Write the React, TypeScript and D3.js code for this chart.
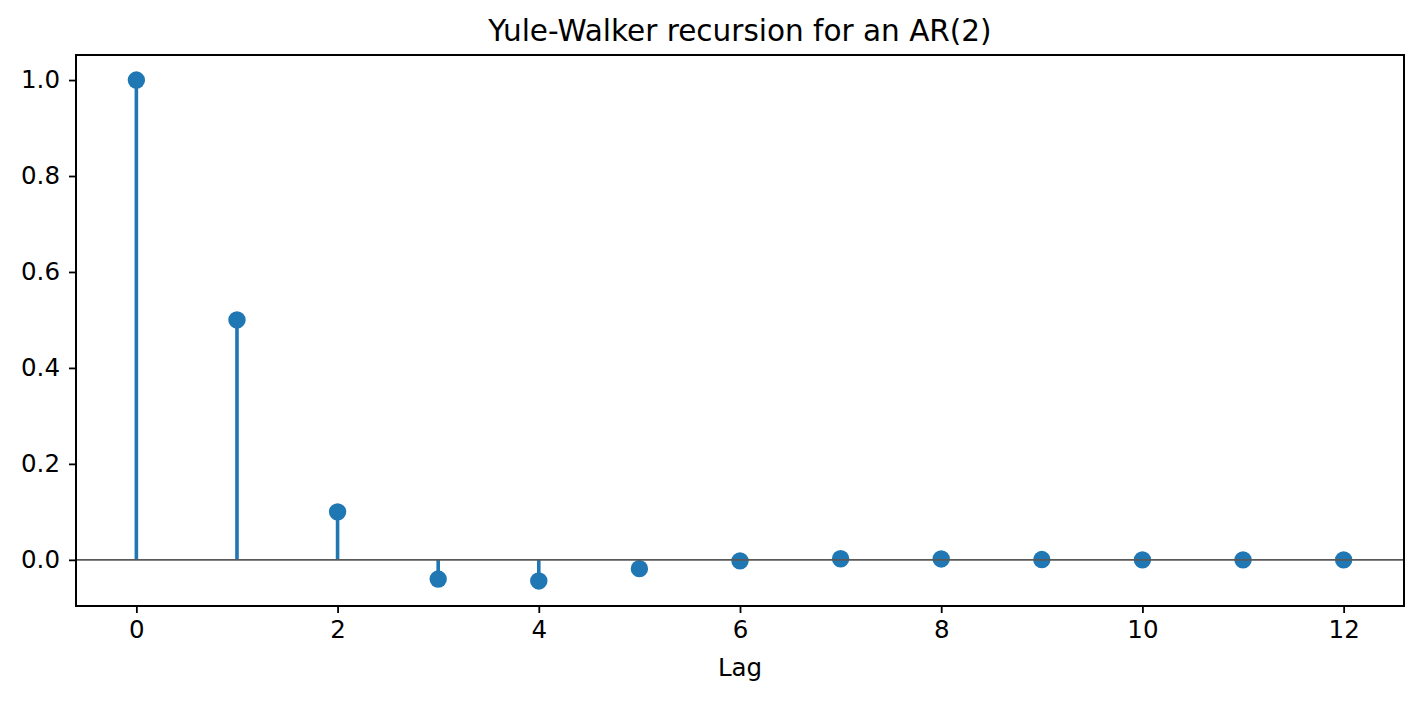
import { useEffect, useRef } from "react";
import * as d3 from "d3";

// lags and autocorrelations
const lags: number[] = [0, 1, 2, 3, 4, 5, 6, 7, 8, 9, 10, 11, 12];
const acf: number[] = [
  1.0, 0.5, 0.1, -0.04, -0.044, -0.0184, -0.0022, 0.0023, 0.0019, 0.0006,
  0.0, -0.0001, -0.0001,
];
const xTicks: number[] = [0, 2, 4, 6, 8, 10, 12];
const yTicks: number[] = [0, 0.2, 0.4, 0.6, 0.8, 1.0];

const stemColor = "#1f77b4";

export default function App() {
  const svgRef = useRef<SVGSVGElement>(null);

  useEffect(() => {
    if (!svgRef.current) return;
    document.body.style.margin = "0";

    const width = 1422;
    const height = 701;
    const margin = { top: 55, right: 18, bottom: 95, left: 76 };
    const font = "DejaVu Sans, sans-serif";
    const tickFont = 24.5;

    const svg = d3.select(svgRef.current);
    svg.selectAll("*").remove();
    svg.attr("width", width).attr("height", height);

    const x = d3
      .scaleLinear()
      .domain([-0.6, 12.6])
      .range([margin.left, width - margin.right]);
    const y = d3
      .scaleLinear()
      .domain([-0.0962, 1.0522])
      .range([height - margin.bottom, margin.top]);

    const data = lags.map((l, i) => ({ lag: l, value: acf[i] }));

    // stems
    svg
      .append("g")
      .selectAll("line")
      .data(data)
      .enter()
      .append("line")
      .attr("x1", (d) => x(d.lag))
      .attr("x2", (d) => x(d.lag))
      .attr("y1", y(0))
      .attr("y2", (d) => y(d.value))
      .attr("stroke", stemColor)
      .attr("stroke-width", 3.6);

    // markers
    svg
      .append("g")
      .selectAll("circle")
      .data(data)
      .enter()
      .append("circle")
      .attr("cx", (d) => x(d.lag))
      .attr("cy", (d) => y(d.value))
      .attr("r", 8.7)
      .attr("fill", stemColor);

    // zero line
    svg
      .append("line")
      .attr("x1", x(-0.6))
      .attr("x2", x(12.6))
      .attr("y1", y(0))
      .attr("y2", y(0))
      .attr("stroke", "#595959")
      .attr("stroke-width", 1.6);

    // x axis
    const xAxis = svg
      .append("g")
      .attr("transform", `translate(0,${height - margin.bottom})`)
      .call(
        d3
          .axisBottom(x)
          .tickValues(xTicks)
          .tickFormat(d3.format("d"))
          .tickSize(7)
          .tickPadding(8)
      );
    xAxis.select(".domain").remove();
    xAxis.selectAll("line").attr("stroke", "#000").attr("stroke-width", 1.8);
    xAxis
      .selectAll("text")
      .attr("font-family", font)
      .attr("font-size", tickFont)
      .attr("fill", "#000");

    // y axis
    const yAxis = svg
      .append("g")
      .attr("transform", `translate(${margin.left},0)`)
      .call(
        d3
          .axisLeft(y)
          .tickValues(yTicks)
          .tickFormat(d3.format(".1f"))
          .tickSize(7)
          .tickPadding(9)
      );
    yAxis.select(".domain").remove();
    yAxis.selectAll("line").attr("stroke", "#000").attr("stroke-width", 1.8);
    yAxis
      .selectAll("text")
      .attr("font-family", font)
      .attr("font-size", tickFont)
      .attr("fill", "#000");

    // frame
    svg
      .append("rect")
      .attr("x", margin.left)
      .attr("y", margin.top)
      .attr("width", width - margin.left - margin.right)
      .attr("height", height - margin.top - margin.bottom)
      .attr("fill", "none")
      .attr("stroke", "#000")
      .attr("stroke-width", 2);

    // title
    svg
      .append("text")
      .attr("x", (margin.left + width - margin.right) / 2)
      .attr("y", 41)
      .attr("text-anchor", "middle")
      .attr("font-family", font)
      .attr("font-size", 29.5)
      .attr("fill", "#000")
      .text("Yule-Walker recursion for an AR(2)");

    // x label
    svg
      .append("text")
      .attr("x", (margin.left + width - margin.right) / 2)
      .attr("y", 676)
      .attr("text-anchor", "middle")
      .attr("font-family", font)
      .attr("font-size", tickFont)
      .attr("fill", "#000")
      .text("Lag");
  }, []);

  return <svg ref={svgRef} style={{ display: "block" }}></svg>;
}
